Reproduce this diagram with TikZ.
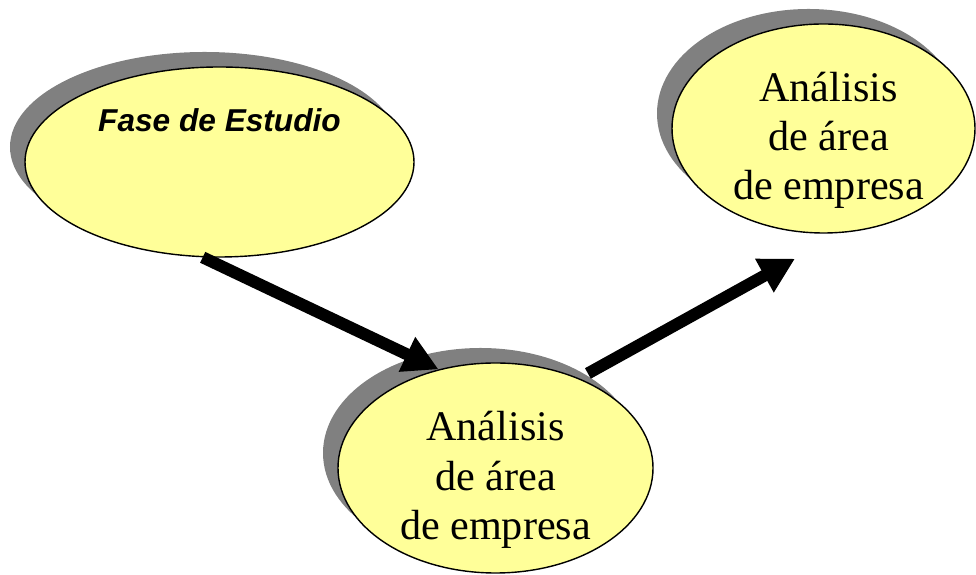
\documentclass[tikz,border=0pt]{standalone}
\usepackage{fontspec}
\setmainfont{Liberation Serif}
\newfontfamily\arial{Liberation Sans}
\usetikzlibrary{shapes.geometric,shadows,arrows.meta}
\definecolor{amarillo}{HTML}{FFFF99}
\definecolor{sombra}{HTML}{808080}
\begin{document}
\begin{tikzpicture}[
  globo/.style={ellipse,draw=black,line width=0.8pt,fill=amarillo,inner sep=0pt,
    drop shadow={shadow xshift=-0.3cm,shadow yshift=0.3cm,fill=sombra,opacity=1}},
  texto/.style={align=center,font=\fontsize{24}{28}\selectfont},
  flecha/.style={line width=0.24cm,-{Triangle[length=0.7cm,width=0.72cm]}}]
  \useasboundingbox (0,0) rectangle (19.52,11.5);
  \node[globo,minimum width=7.78cm,minimum height=3.8cm] (fase) at (4.39,8.26) {};
  \node[anchor=base,font=\arial\bfseries\itshape\fontsize{18}{22}\selectfont] (titulo)
    at ([yshift=0.6cm]fase.center) {Fase de Estudio};
  \node[globo,minimum width=6.3cm,minimum height=4.2cm] (bajo) at (9.91,2.14) {};
  \node[texto] (textobajo) at ([yshift=-0.24cm]bajo.center) {Análisis\\de área\\de empresa};
  \node[globo,minimum width=6.06cm,minimum height=4.18cm] (alto) at (16.47,8.93) {};
  \node[texto] (textoalto) at ([xshift=0.1cm,yshift=-0.24cm]alto.center) {Análisis\\de área\\de empresa};
  \coordinate (meta) at ([xshift=-0.57cm,yshift=-0.5cm]alto.south);
  \draw[flecha] (fase.260) -- (bajo.120);
  \draw[flecha,shorten <=0.2cm] (bajo.47) -- (meta);
\end{tikzpicture}
\end{document}
